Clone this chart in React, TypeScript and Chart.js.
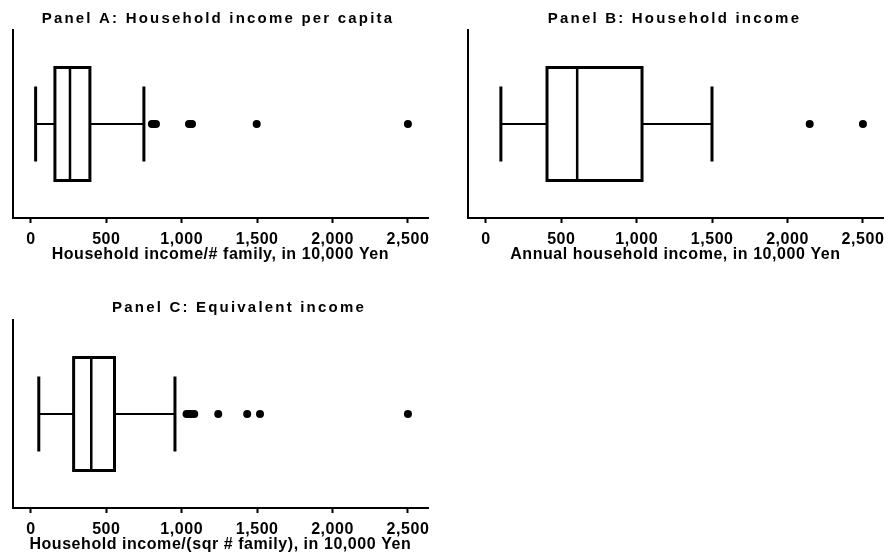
import React, { useEffect, useRef } from 'react';
import { Chart, registerables } from 'chart.js';

Chart.register(...registerables);

const FONT_FAMILY = "'Liberation Sans', Arial, Helvetica, sans-serif";

// Shared x axis: ticks and visible range (10,000 Yen)
const TICK_VALUES = [0, 500, 1000, 1500, 2000, 2500];
const TICK_LABELS = ['0', '500', '1,000', '1,500', '2,000', '2,500'];
const AXIS_MIN = -121;
const AXIS_MAX = 2633;

// Panel A: household income per capita
const A_TITLE = 'Panel A: Household income per capita';
const A_XLABEL = 'Household income/# family, in 10,000 Yen';
const A_WHISKERS = [31, 749];
const A_QUARTILES = [159, 259, 391];
const A_OUTLIERS = [802, 815, 829, 1048, 1058, 1068, 1497, 2500];

// Panel B: household income
const B_TITLE = 'Panel B: Household income';
const B_XLABEL = 'Annual household income, in 10,000 Yen';
const B_WHISKERS = [99, 1499];
const B_QUARTILES = [405, 605, 1035];
const B_OUTLIERS = [2147, 2500];

// Panel C: equivalent income
const C_TITLE = 'Panel C: Equivalent income';
const C_XLABEL = 'Household income/(sqr # family), in 10,000 Yen';
const C_WHISKERS = [52, 955];
const C_QUARTILES = [283, 400, 554];
const C_OUTLIERS = [1032, 1049, 1066, 1083, 1242, 1434, 1519, 2500];

// Box geometry on the hidden vertical scale (-1 .. 1)
const BOX_HALF = 0.6;
const CAP_HALF = 0.4;

const TITLE_SPACING = '2.2px';
const SCALE_SPACING = '0.55px';

// Canvas letter spacing: wide for the panel title, tighter for axis text.
const spacingPlugin = {
  id: 'letterSpacing',
  beforeLayout(chart: any) {
    chart.ctx.letterSpacing = SCALE_SPACING;
  },
  beforeDraw(chart: any) {
    chart.ctx.letterSpacing = TITLE_SPACING;
  },
  beforeDatasetsDraw(chart: any) {
    chart.ctx.letterSpacing = SCALE_SPACING;
  },
};

type PanelProps = {
  title: string;
  xLabel: string;
  whiskers: number[];
  quartiles: number[];
  outliers: number[];
  left: number;
  top: number;
  width: number;
  height: number;
  plotLeft: number;
  plotRightGap: number;
  titlePad: [number, number];
  axisHeight: number;
  axisTitlePad: number;
};

function segment(points: { x: number; y: number }[], width: number) {
  return {
    type: 'scatter' as const,
    data: points,
    showLine: true,
    borderColor: '#000',
    backgroundColor: '#000',
    borderWidth: width,
    pointRadius: 0,
    pointHoverRadius: 0,
    fill: false,
    borderJoinStyle: 'miter' as const,
    borderCapStyle: 'butt' as const,
  };
}

function BoxPanel(p: PanelProps) {
  const ref = useRef<HTMLCanvasElement | null>(null);

  useEffect(() => {
    if (!ref.current) return;
    const [lo, hi] = p.whiskers;
    const [q1, med, q3] = p.quartiles;

    const datasets: any[] = [
      // box outline
      segment(
        [
          { x: q1, y: -BOX_HALF },
          { x: q3, y: -BOX_HALF },
          { x: q3, y: BOX_HALF },
          { x: q1, y: BOX_HALF },
          { x: q1, y: -BOX_HALF },
          { x: q3, y: -BOX_HALF },
        ],
        3
      ),
      // median
      segment(
        [
          { x: med, y: -BOX_HALF },
          { x: med, y: BOX_HALF },
        ],
        2.5
      ),
      // whiskers
      segment(
        [
          { x: lo, y: 0 },
          { x: q1, y: 0 },
        ],
        2
      ),
      segment(
        [
          { x: q3, y: 0 },
          { x: hi, y: 0 },
        ],
        2
      ),
      // whisker caps
      segment(
        [
          { x: lo, y: -CAP_HALF },
          { x: lo, y: CAP_HALF },
        ],
        3
      ),
      segment(
        [
          { x: hi, y: -CAP_HALF },
          { x: hi, y: CAP_HALF },
        ],
        3
      ),
      // outside values
      {
        type: 'scatter',
        data: p.outliers.map((v) => ({ x: v, y: 0 })),
        showLine: false,
        pointRadius: 4,
        pointHoverRadius: 4,
        pointStyle: 'circle',
        backgroundColor: '#000',
        borderColor: '#000',
        borderWidth: 0,
      },
    ];

    const chart = new Chart(ref.current, {
      type: 'scatter',
      data: { datasets },
      plugins: [spacingPlugin],
      options: {
        responsive: false,
        animation: false,
        events: [],
        devicePixelRatio: 1,
        layout: { padding: 0 },
        font: { family: FONT_FAMILY },
        plugins: {
          legend: { display: false },
          tooltip: { enabled: false },
          title: {
            display: true,
            text: p.title,
            color: '#000',
            font: { family: FONT_FAMILY, size: 15, weight: 'bold', lineHeight: 1.2 },
            padding: { top: p.titlePad[0], bottom: p.titlePad[1] },
          },
        },
        scales: {
          x: {
            type: 'linear',
            position: 'bottom',
            min: AXIS_MIN,
            max: AXIS_MAX,
            afterBuildTicks(scale: any) {
              scale.ticks = TICK_VALUES.map((v) => ({ value: v }));
            },
            afterFit(scale: any) {
              scale.height = p.axisHeight;
              scale.paddingLeft = 0;
              scale.paddingRight = 0;
            },
            ticks: {
              autoSkip: false,
              maxRotation: 0,
              includeBounds: false,
              padding: 6.7,
              color: '#000',
              z: 1,
              font: { family: FONT_FAMILY, size: 16, weight: 'bold', lineHeight: 1.2 },
              callback: (value: any) => {
                const i = TICK_VALUES.indexOf(Number(value));
                return i >= 0 ? TICK_LABELS[i] : '';
              },
            },
            grid: {
              display: true,
              drawOnChartArea: false,
              drawTicks: true,
              tickLength: 5,
              tickWidth: 2,
              tickColor: '#000',
              color: '#000',
              z: 1,
            },
            border: { display: true, color: '#000', width: 2, z: 1 },
            title: {
              display: true,
              text: p.xLabel,
              color: '#000',
              font: { family: FONT_FAMILY, size: 16, weight: 'bold', lineHeight: 1.2 },
              padding: { top: 0, bottom: p.axisTitlePad },
            },
          },
          y: {
            type: 'linear',
            position: 'left',
            min: -1,
            max: 1,
            afterFit(scale: any) {
              scale.width = p.plotLeft;
            },
            ticks: { display: false },
            grid: { display: false, drawTicks: false },
            border: { display: true, color: '#000', width: 2 },
          },
          yRight: {
            type: 'linear',
            position: 'right',
            display: true,
            afterFit(scale: any) {
              scale.width = p.plotRightGap;
            },
            ticks: { display: false },
            grid: { display: false, drawTicks: false },
            border: { display: false },
          },
        },
      } as any,
    });

    return () => chart.destroy();
  }, []);

  return (
    <canvas
      ref={ref}
      width={p.width}
      height={p.height}
      style={{ position: 'absolute', left: p.left, top: p.top, width: p.width, height: p.height }}
    />
  );
}

export default function App() {
  return (
    <div
      style={{
        position: 'fixed',
        left: 0,
        top: 0,
        width: 888,
        height: 553,
        overflow: 'hidden',
        background: '#fff',
      }}
    >
      <BoxPanel
        title={A_TITLE}
        xLabel={A_XLABEL}
        whiskers={A_WHISKERS}
        quartiles={A_QUARTILES}
        outliers={A_OUTLIERS}
        left={0}
        top={0}
        width={436}
        height={270}
        plotLeft={12.7}
        plotRightGap={8}
        titlePad={[9.8, 2.2]}
        axisHeight={52}
        axisTitlePad={5.6}
      />
      <BoxPanel
        title={B_TITLE}
        xLabel={B_XLABEL}
        whiskers={B_WHISKERS}
        quartiles={B_QUARTILES}
        outliers={B_OUTLIERS}
        left={461}
        top={0}
        width={427}
        height={270}
        plotLeft={6.7}
        plotRightGap={5}
        titlePad={[9.8, 2.2]}
        axisHeight={52}
        axisTitlePad={5.6}
      />
      <BoxPanel
        title={C_TITLE}
        xLabel={C_XLABEL}
        whiskers={C_WHISKERS}
        quartiles={C_QUARTILES}
        outliers={C_OUTLIERS}
        left={0}
        top={270}
        width={478}
        height={292}
        plotLeft={12.7}
        plotRightGap={50}
        titlePad={[29.3, 2.7]}
        axisHeight={54}
        axisTitlePad={7.6}
      />
    </div>
  );
}
